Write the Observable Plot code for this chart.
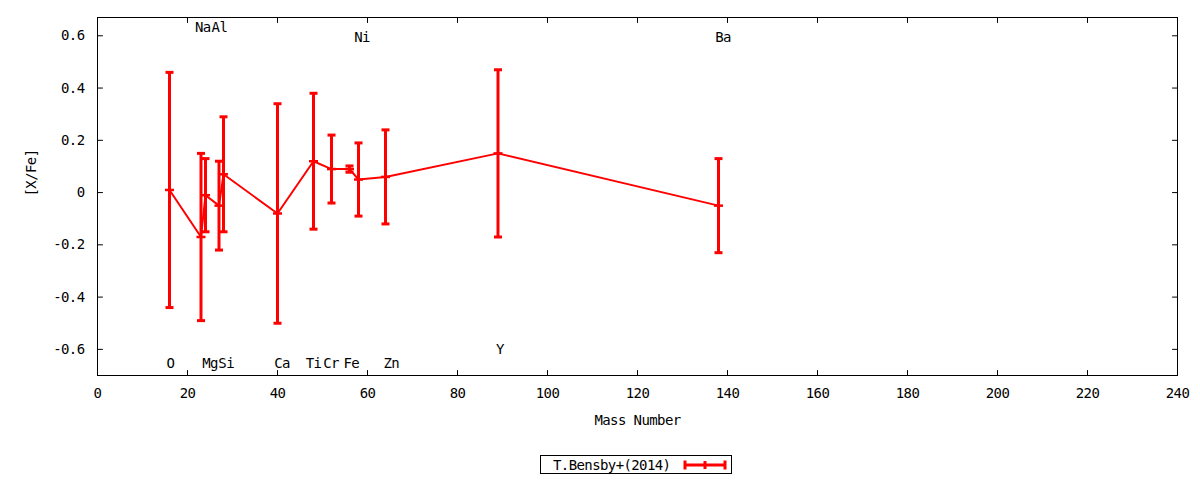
<!DOCTYPE html>
<html>
<head>
<meta charset="utf-8">
<script src="https://cdn.jsdelivr.net/npm/d3@7"></script>
<script src="https://cdn.jsdelivr.net/npm/@observablehq/plot@0.6"></script>
<style>
  html, body { margin: 0; padding: 0; background: #fff; }
  #chart svg text { letter-spacing: -0.6px; }
  #legend { position: relative; width: 1200px; height: 35px; font-family: "DejaVu Sans Mono", monospace; font-size: 14px; letter-spacing: -0.6px; }
  #legend .box { position: absolute; left: 540px; top: 10px; width: 190px; height: 17px; border: 1px solid #000; display: flex; align-items: center; }
  #legend .box span { margin-left: 12px; white-space: nowrap; }
  #legend .box svg { position: absolute; left: 142px; top: 3px; }
</style>
</head>
<body>
<div id="chart"></div>
<div id="legend"></div>
<script>
// ---- data ----
const elements = ["O", "Na", "Mg", "Al", "Si", "Ca", "Ti", "Cr", "Fe", "Ni", "Zn", "Y", "Ba"];
const massNumber = [16, 23, 24, 27, 28, 40, 48, 52, 56, 58, 64, 89, 138];
const xFe = [0.01, -0.17, -0.01, -0.05, 0.07, -0.08, 0.12, 0.09, 0.09, 0.05, 0.06, 0.15, -0.05];
const xFeErr = [0.45, 0.32, 0.14, 0.17, 0.22, 0.42, 0.26, 0.13, 0.012, 0.14, 0.18, 0.32, 0.18];
// element label positions (as placed in the chart)
const labelX = [16.2, 23.4, 25, 27.1, 28.6, 41, 48, 51.9, 56.4, 58.8, 65.3, 89.4, 139];
const labelY = [-0.654, 0.63, -0.654, 0.63, -0.654, -0.654, -0.654, -0.654, -0.654, 0.594, -0.654, -0.60, 0.594];
const xTicks = [0, 20, 40, 60, 80, 100, 120, 140, 160, 180, 200, 220, 240];
const yTicks = [-0.6, -0.4, -0.2, 0, 0.2, 0.4, 0.6];
const xDomain = [0, 240];
const yDomain = [-0.7, 0.67];
const seriesName = "T.Bensby+(2014)";
const xLabel = "Mass Number";
const yLabel = "[X/Fe]";

const rows = elements.map((e, i) => ({
  el: e, mass: massNumber[i], v: xFe[i],
  lo: xFe[i] - xFeErr[i], hi: xFe[i] + xFeErr[i]
}));
const labels = elements.map((e, i) => ({el: e, x: labelX[i], y: labelY[i]}));

const tickShape = {draw(c, l) { c.moveTo(0, 0); c.lineTo(0, -l); }};
const capSymbol = {draw(c, size) { const w = Math.sqrt(size / Math.PI); c.moveTo(-w, 0); c.lineTo(w, 0); }};
const RED = "#ff0000";

const chart = Plot.plot({
  width: 1200,
  height: 445,
  marginLeft: 97,
  marginRight: 23,
  marginTop: 17,
  marginBottom: 70,
  style: {fontFamily: "DejaVu Sans Mono, monospace", fontSize: "14px", color: "#000", background: "#fff"},
  x: {domain: xDomain},
  y: {domain: yDomain},
  marks: [
    Plot.axisX({ticks: xTicks, tickSize: 0, tickPadding: 13, label: null, tickFormat: d => String(d)}),
    Plot.axisY({ticks: yTicks, tickSize: 0, tickPadding: 13, label: null, tickFormat: d => d === 0 ? "0" : d.toFixed(1)}),
    // inward ticks on all four sides
    Plot.vector(xTicks, {x: d => d, frameAnchor: "bottom", length: 5, rotate: 0, anchor: "start", shape: tickShape, stroke: "#000", strokeWidth: 1}),
    Plot.vector(xTicks, {x: d => d, frameAnchor: "top", length: 5, rotate: 180, anchor: "start", shape: tickShape, stroke: "#000", strokeWidth: 1}),
    Plot.vector(yTicks, {y: d => d, frameAnchor: "left", length: 5, rotate: 90, anchor: "start", shape: tickShape, stroke: "#000", strokeWidth: 1}),
    Plot.vector(yTicks, {y: d => d, frameAnchor: "right", length: 5, rotate: -90, anchor: "start", shape: tickShape, stroke: "#000", strokeWidth: 1}),
    Plot.frame({stroke: "#000", strokeWidth: 1}),
    // axis titles
    Plot.text([xLabel], {text: d => d, frameAnchor: "bottom", dy: 49, fill: "#000"}),
    Plot.text([yLabel], {text: d => d, frameAnchor: "left", dx: -66, rotate: -90, fill: "#000"}),
    // element labels
    Plot.text(labels, {x: "x", y: "y", text: "el", fill: "#000"}),
    // connecting line
    Plot.line(rows, {x: "mass", y: "v", stroke: RED, strokeWidth: 2}),
    // error bars
    Plot.ruleX(rows, {x: "mass", y1: "lo", y2: "hi", stroke: RED, strokeWidth: 3}),
    Plot.dot(rows, {x: "mass", y: "hi", symbol: capSymbol, r: 4, fill: "none", stroke: RED, strokeWidth: 3}),
    Plot.dot(rows, {x: "mass", y: "lo", symbol: capSymbol, r: 4, fill: "none", stroke: RED, strokeWidth: 3}),
    Plot.dot(rows, {x: "mass", y: "v", symbol: capSymbol, r: 4.5, fill: "none", stroke: RED, strokeWidth: 2.5})
  ]
});
document.getElementById("chart").appendChild(chart);

// legend below the chart
const legend = document.getElementById("legend");
const box = document.createElement("div");
box.className = "box";
const span = document.createElement("span");
span.textContent = seriesName;
box.appendChild(span);
const ns = "http://www.w3.org/2000/svg";
const sv = document.createElementNS(ns, "svg");
sv.setAttribute("width", "44");
sv.setAttribute("height", "12");
const p = document.createElementNS(ns, "path");
p.setAttribute("d", "M2,6H42M2,1.5V10.5M42,1.5V10.5M22,2V10");
p.setAttribute("stroke", RED);
p.setAttribute("stroke-width", "3");
p.setAttribute("fill", "none");
sv.appendChild(p);
box.appendChild(sv);
legend.appendChild(box);
</script>
</body>
</html>
